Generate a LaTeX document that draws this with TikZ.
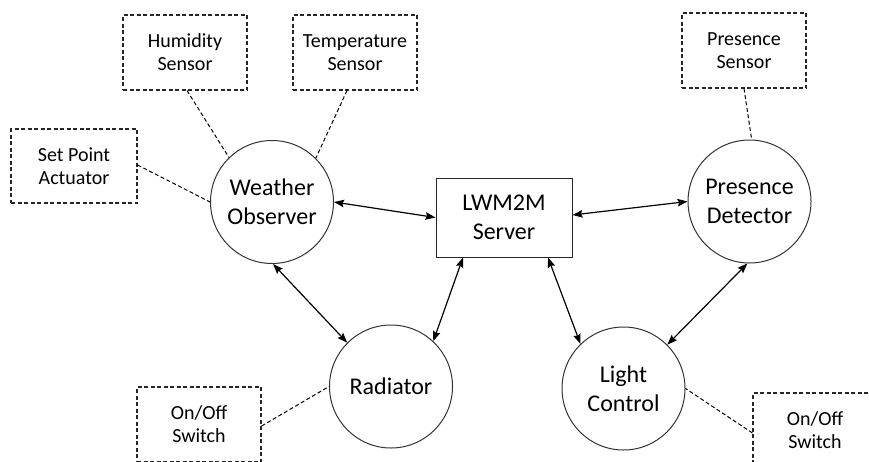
\documentclass[tikz,border=0pt]{standalone}
\usepackage{fontspec}
\setmainfont{Carlito}
\usetikzlibrary{arrows.meta}
\begin{document}
\begin{tikzpicture}[x=1pt, y=-1pt,
  device/.style={circle, draw=black!80, line width=1pt, minimum size=123pt,
    inner sep=0pt, align=center, font=\fontsize{24}{29.5}\selectfont},
  part/.style={rectangle, draw=black!85, line width=1.1pt, dash pattern=on 4pt off 2.5pt,
    minimum width=124pt, minimum height=75pt, inner sep=0pt, align=center,
    font=\fontsize{20}{23}\selectfont},
  serverbox/.style={rectangle, draw=black!85, line width=1pt, minimum width=136pt,
    minimum height=79pt, inner sep=0pt, align=center, font=\fontsize{24}{29.5}\selectfont},
  tip/.style={Stealth[length=10pt,width=7.5pt,inset=1.5pt]},
  link/.style={line width=1.2pt, {Stealth[length=10pt,width=7.5pt,inset=1.5pt]}-{Stealth[length=10pt,width=7.5pt,inset=1.5pt]}},
  attach/.style={line width=1pt, dash pattern=on 4pt off 2.5pt},
]
\useasboundingbox (0,0) rectangle (869,461);
\clip (0,0) rectangle (869,461);

% main devices
\node[device] (wo) at (272,202) {Weather\\Observer};
\node[device] (pd) at (749.5,201.5) {Presence\\Detector};
\node[device] (rad) at (391,386.5) {Radiator};
\node[device] (lc) at (623.5,388.5) {Light\\Control};
\node[serverbox] (srv) at (504,217.5) {LWM2M\\Server};

% attached sensors and actuators
\node[part] (hum) at (185,52.5) {Humidity\\Sensor};
\node[part] (temp) at (355,52.5) {Temperature\\Sensor};
\node[part, minimum width=126pt, minimum height=74pt] (spa) at (74,166) {Set Point\\Actuator};
\node[part] (ps) at (744,50.5) {Presence\\Sensor};
\node[part] (sw1) at (199,424.5) {On/Off\\Switch};
\node[part] (sw2) at (815,430.5) {On/Off\\Switch};

% local attachments
\draw[attach] ([xshift=2pt]hum.south) -- (wo.134);
\draw[attach] ([xshift=-8pt]temp.south) -- (wo.45);
\draw[attach] ([yshift=1pt]spa.east) -- (wo.180);
\draw[attach] (ps.south) -- (pd.88);
\draw[attach] ([yshift=-1.5pt]sw1.east) -- (rad.180);
\draw[attach] ([yshift=-2.5pt]sw2.west) -- (lc.0);

% LWM2M links
\draw[link] (wo.0) -- (srv.west);
\draw[link] ([yshift=2.5pt]srv.east) -- (pd.180);
\draw[link] (wo.-89) -- (rad.135);
\draw[link] ([xshift=-41pt]srv.south) -- (rad.47);
\draw[link] ([xshift=44pt]srv.south) -- (lc.134);
\draw[link] (pd.-92) -- (lc.45);
\end{tikzpicture}
\end{document}
